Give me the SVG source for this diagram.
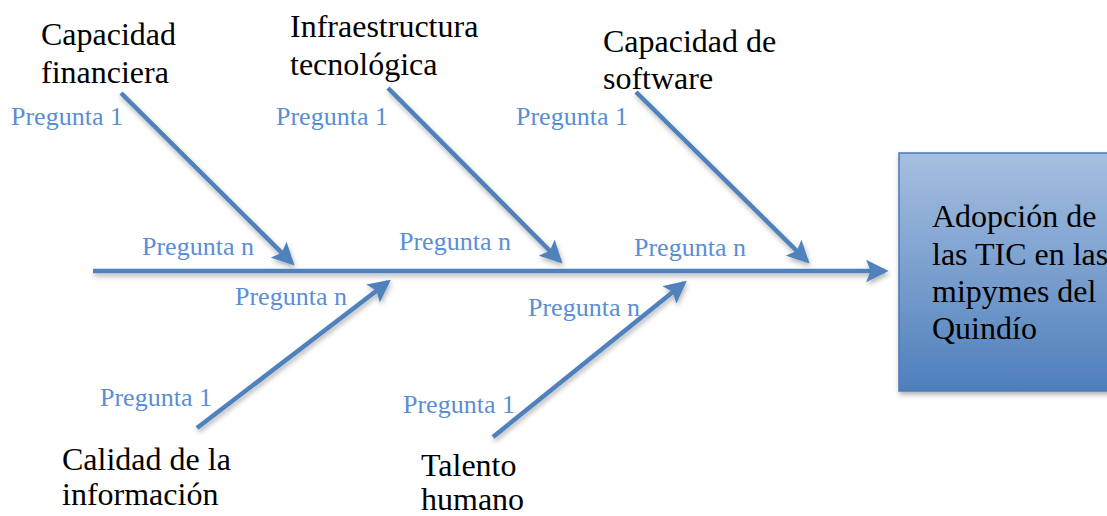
<svg xmlns="http://www.w3.org/2000/svg" width="1107" height="516" viewBox="0 0 1107 516">
<style>
.t{font-family:"Liberation Serif","Times New Roman",serif;font-size:32px;fill:#000}
.q{font-family:"Liberation Serif","Times New Roman",serif;font-size:26px;fill:#5a8ed4}
.ln{stroke:#4f81bd;stroke-width:4.5;fill:none;marker-end:url(#ah)}
</style>
<defs>
<marker id="ah" markerWidth="5" markerHeight="5" refX="4.2" refY="2.5" orient="auto" markerUnits="strokeWidth">
<path d="M0,0 L5,2.5 L0,5 L1,2.5 Z" fill="#4f81bd"/>
</marker>
<linearGradient id="bg" x1="0" y1="0" x2="0" y2="1">
<stop offset="0" stop-color="#a6bfe0"/>
<stop offset="1" stop-color="#4e7fbc"/>
</linearGradient>
<filter id="sh" x="-10%" y="-10%" width="130%" height="140%">
<feDropShadow dx="1" dy="3" stdDeviation="2.5" flood-color="#000" flood-opacity="0.3"/>
</filter>
</defs>
<g id="connectors" filter="url(#sh)">
<line class="ln" x1="93" y1="271" x2="885" y2="271"/>
<line class="ln" x1="121" y1="93" x2="292" y2="263"/>
<line class="ln" x1="388" y1="88" x2="560" y2="261"/>
<line class="ln" x1="636" y1="92" x2="807" y2="261"/>
<line class="ln" x1="197" y1="428" x2="388" y2="282"/>
<line class="ln" x1="493" y1="437" x2="684" y2="283"/>
</g>
<g id="effect">
<rect x="899" y="153" width="212" height="238" fill="url(#bg)" stroke="#4a7ab5" stroke-width="1.5" filter="url(#sh)"/>
<text class="t" x="932" y="227">Adopción de</text>
<text class="t" x="932" y="265">las TIC en las</text>
<text class="t" x="932" y="302">mipymes del</text>
<text class="t" x="932" y="339">Quindío</text>
</g>
<g id="cause-financiera">
<text class="t" x="41" y="45">Capacidad</text>
<text class="t" x="41" y="83">financiera</text>
<text class="q" x="11" y="125">Pregunta 1</text>
<text class="q" x="142" y="255">Pregunta n</text>
</g>
<g id="cause-infraestructura">
<text class="t" x="290" y="37">Infraestructura</text>
<text class="t" x="290" y="75">tecnológica</text>
<text class="q" x="276" y="125">Pregunta 1</text>
<text class="q" x="399" y="250">Pregunta n</text>
</g>
<g id="cause-software">
<text class="t" x="603" y="52">Capacidad de</text>
<text class="t" x="603" y="89">software</text>
<text class="q" x="516" y="125">Pregunta 1</text>
<text class="q" x="634" y="256">Pregunta n</text>
</g>
<g id="cause-informacion">
<text class="t" x="62" y="470">Calidad de la</text>
<text class="t" x="62" y="505">información</text>
<text class="q" x="100" y="406">Pregunta 1</text>
<text class="q" x="235" y="305">Pregunta n</text>
</g>
<g id="cause-talento">
<text class="t" x="421" y="476">Talento</text>
<text class="t" x="421" y="510">humano</text>
<text class="q" x="403" y="413">Pregunta 1</text>
<text class="q" x="528" y="316">Pregunta n</text>
</g>
</svg>
